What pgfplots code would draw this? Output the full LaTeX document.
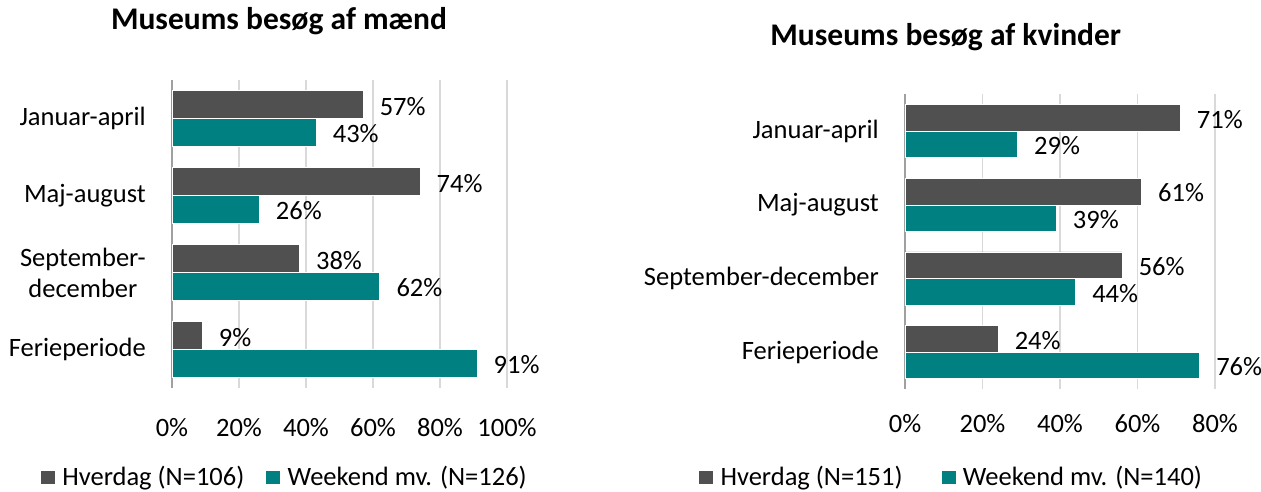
\documentclass[border=0pt]{standalone}
\usepackage{pgfplots}
\pgfplotsset{compat=1.18}
\usepackage{fontspec}
\setmainfont{Carlito}
\definecolor{darkbar}{HTML}{505050}
\definecolor{tealbar}{HTML}{008080}
\definecolor{gridc}{HTML}{D9D9D9}
\definecolor{axc}{HTML}{A0A0A0}
\pgfplotsset{
  mybars/.style={
    scale only axis,
    xbar,
    axis lines*=left,
    x axis line style={draw=none},
    y axis line style={draw=axc, line width=2pt},
    major tick length=0pt,
    xmin=0,
    ymin=-0.5, ymax=3.5,
    ytick={0,1,2,3},
    xmajorgrids,
    major grid style={draw=gridc, line width=1.8pt},
    clip=false,
    /pgf/number format/assume math mode=true,
    xticklabel={\pgfmathprintnumber{\tick}\%},
    yticklabel style={anchor=east, inner sep=0pt, xshift=-26pt, align=center, font=\fontsize{26.5}{31}\selectfont},
    nodes near coords={\pgfmathprintnumber{\pgfplotspointmeta}\%},
    nodes near coords style={anchor=west, inner sep=0pt, xshift=16.5pt, yshift=-1.5pt, font=\fontsize{26.5}{31}\selectfont, text=black},
    title style={font=\fontsize{31.5}{36}\selectfont\bfseries, anchor=base, inner sep=0pt, yshift=0pt},
    legend style={draw=none, inner sep=0pt, outer sep=0pt, anchor=west, legend columns=2,
      nodes={inner sep=0pt, font=\fontsize{26.5}{31}\selectfont},
      /tikz/every odd column/.append style={column sep=6.7pt}},
    legend image code/.code={\fill[##1] (0pt,-7.2pt) rectangle (15pt,7.2pt);},
    every axis plot/.append style={draw=white, line width=0.6pt},
  }
}
\begin{document}
\begin{tikzpicture}[font=\fontsize{26.5}{31}\selectfont]
% ---------- left: men ----------
\begin{axis}[mybars,
  at={(172pt,103pt)}, anchor=south west,
  width=335pt, height=308pt,
  xmax=100, xtick={0,20,40,60,80,100},
  xticklabel style={anchor=center, inner sep=0pt, yshift=-39.5pt, font=\fontsize{26.5}{31}\selectfont},
  yticklabels={Ferieperiode,{September-\\december},Maj-august,Januar-april},
  bar width=27.8pt,
  title={Museums besøg af mænd},
  title style={at={(0.3194,1.1429)}},
  legend style={at={(-0.394,-0.2890)},
    /tikz/every even column/.append style={column sep=21pt}},
]
\addplot[fill=darkbar, bar shift=13.9pt] coordinates {(57,3) (74,2) (38,1) (9,0)};
\addplot[fill=tealbar, bar shift=-13.9pt] coordinates {(43,3) (26,2) (62,1) (91,0)};
\legend{Hverdag (N=106),Weekend mv. (N=126)}
\end{axis}
% ---------- right: women ----------
\begin{axis}[mybars,
  at={(905pt,102pt)}, anchor=south west,
  width=310pt, height=294.7pt,
  xmax=80, xtick={0,20,40,60,80},
  xticklabel style={anchor=center, inner sep=0pt, yshift=-35pt, font=\fontsize{26.5}{31}\selectfont},
  yticklabels={Ferieperiode,September-december,Maj-august,Januar-april},
  bar width=26.5pt,
  title={Museums besøg af kvinder},
  title style={at={(0.1316,1.1469)}},
  legend style={at={(-0.667,-0.2987)},
    /tikz/every even column/.append style={column sep=38pt}},
]
\addplot[fill=darkbar, bar shift=13.25pt] coordinates {(71,3) (61,2) (56,1) (24,0)};
\addplot[fill=tealbar, bar shift=-13.25pt] coordinates {(29,3) (39,2) (44,1) (76,0)};
\legend{Hverdag (N=151),Weekend mv. (N=140)}
\end{axis}
\pgfresetboundingbox
\path[use as bounding box] (0pt,0pt) rectangle (1261pt,491pt);
\end{tikzpicture}
\end{document}
